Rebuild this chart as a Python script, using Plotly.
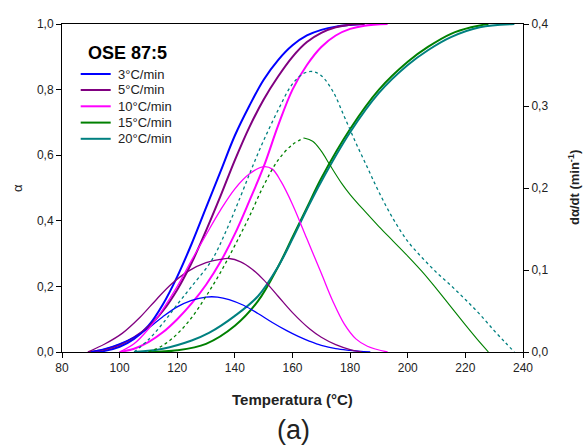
import plotly.graph_objects as go

# ---------------- data ----------------
rates = ["3°C/min", "5°C/min", "10°C/min", "15°C/min", "20°C/min"]
colors = ["#0000FF", "#800080", "#FF00FF", "#008000", "#008080"]
legend_title = "OSE 87:5"

# conversion alpha vs temperature
T_a3 = [90, 95, 100, 105, 110, 115, 120, 125, 130, 135, 140, 145, 150, 155, 160, 165, 170, 175, 180, 185]
a3 = [0.0, 0.004, 0.016, 0.04, 0.08, 0.145, 0.23, 0.33, 0.44, 0.55, 0.66, 0.75, 0.83, 0.89, 0.935, 0.965, 0.982, 0.992, 0.997, 1.0]

T_a5 = [89, 95, 100, 105, 110, 115, 120, 125, 130, 135, 140, 145, 150, 155, 160, 165, 170, 175, 180, 185]
a5 = [0.0, 0.008, 0.022, 0.045, 0.077, 0.125, 0.19, 0.272, 0.37, 0.475, 0.585, 0.685, 0.77, 0.84, 0.9, 0.945, 0.973, 0.99, 0.998, 1.0]

T_a10 = [100, 105, 110, 115, 120, 125, 130, 135, 140, 145, 150, 155, 160, 165, 170, 175, 180, 185, 193]
a10 = [0.0, 0.01, 0.03, 0.06, 0.10, 0.148, 0.205, 0.275, 0.36, 0.46, 0.565, 0.69, 0.80, 0.875, 0.93, 0.965, 0.985, 0.995, 1.0]

T_a15 = [110, 120, 130, 140, 148, 155, 160, 165, 170, 180, 190, 200, 207, 215, 222, 228]
a15 = [0.0, 0.005, 0.025, 0.08, 0.155, 0.26, 0.35, 0.44, 0.53, 0.68, 0.80, 0.885, 0.93, 0.97, 0.99, 1.0]

T_a20 = [105, 115, 125, 131, 140, 148, 155, 160, 165, 170, 180, 190, 200, 207, 215, 225, 237]
a20 = [0.0, 0.01, 0.035, 0.058, 0.11, 0.17, 0.26, 0.345, 0.435, 0.52, 0.67, 0.79, 0.875, 0.92, 0.96, 0.99, 1.0]

# conversion rate d(alpha)/dt vs temperature
T_r3 = [90, 95, 100, 105, 110, 115, 120, 125, 130, 134, 138, 143, 148, 153, 158, 162, 166, 170, 175, 180, 187]
r3 = [0.0, 0.004, 0.01, 0.018, 0.029, 0.043, 0.055, 0.063, 0.067, 0.067, 0.064, 0.057, 0.047, 0.036, 0.026, 0.019, 0.013, 0.008, 0.004, 0.002, 0.0]

T_r5 = [89, 95, 101, 107, 113, 118, 124, 130, 135, 138, 142, 146, 150, 155, 160, 166, 170, 175, 180, 184]
r5 = [0.0, 0.01, 0.023, 0.042, 0.065, 0.083, 0.099, 0.109, 0.113, 0.114, 0.110, 0.101, 0.088, 0.068, 0.048, 0.028, 0.018, 0.009, 0.003, 0.0]

T_r10 = [100, 105, 110, 115, 120, 125, 130, 135, 140, 145, 150, 153, 156, 160, 165, 170, 174, 178, 182, 186, 193]
r10 = [0.0, 0.01, 0.028, 0.052, 0.08, 0.112, 0.143, 0.173, 0.199, 0.217, 0.226, 0.223, 0.208, 0.18, 0.138, 0.096, 0.062, 0.034, 0.016, 0.007, 0.0]

T_r15 = [110, 115, 120, 125, 130, 135, 140, 145, 150, 155, 160, 164,
         167, 170, 173, 177, 180, 185, 190, 195, 200, 205, 210, 215, 220, 224, 228]
r15 = [0.0, 0.008, 0.022, 0.042, 0.068, 0.097, 0.13, 0.165, 0.203, 0.234, 0.253, 0.261,
       0.257, 0.245, 0.228, 0.206, 0.192, 0.172, 0.153, 0.135, 0.117, 0.098, 0.077, 0.055, 0.033, 0.016, 0.0]

T_r20 = [105, 110, 115, 120, 125, 132, 137, 142, 146, 150, 155, 160, 164, 167, 170, 174, 178,
         182, 186, 190, 195, 200, 205, 210, 215, 220, 225, 230, 234, 237]
r20 = [0.0, 0.015, 0.035, 0.058, 0.08, 0.112, 0.148, 0.19, 0.225, 0.258, 0.295, 0.327, 0.34, 0.342, 0.337, 0.318, 0.287,
       0.255, 0.225, 0.195, 0.162, 0.135, 0.115, 0.097, 0.081, 0.064, 0.046, 0.026, 0.011, 0.0]

alpha_T = [T_a3, T_a5, T_a10, T_a15, T_a20]
alpha_v = [a3, a5, a10, a15, a20]
rate_T = [T_r3, T_r5, T_r10, T_r15, T_r20]
rate_v = [r3, r5, r10, r15, r20]
rate_dash = ["solid", "solid", "solid", "split", "dot"]

x_ticks = [80, 100, 120, 140, 160, 180, 200, 220, 240]
yl_ticks = [0.0, 0.2, 0.4, 0.6, 0.8, 1.0]
yr_ticks = [0.0, 0.1, 0.2, 0.3, 0.4]

FONT = "Arial, Liberation Sans, sans-serif"
TXT = "#222"

fig = go.Figure()

# rate curves (right axis)
for i in range(5):
    c = colors[i]
    if rate_dash[i] == "split":
        k = rate_v[i].index(max(rate_v[i]))
        fig.add_trace(go.Scatter(x=rate_T[i][:k + 1], y=rate_v[i][:k + 1], yaxis="y2", mode="lines",
                                 line=dict(color=c, width=1.3, dash="dot", shape="spline"), showlegend=False))
        fig.add_trace(go.Scatter(x=rate_T[i][k:], y=rate_v[i][k:], yaxis="y2", mode="lines",
                                 line=dict(color=c, width=1.1, shape="spline"), showlegend=False))
    else:
        fig.add_trace(go.Scatter(x=rate_T[i], y=rate_v[i], yaxis="y2", mode="lines",
                                 line=dict(color=c, width=1.3, dash=rate_dash[i], shape="spline"),
                                 showlegend=False))

# alpha curves (left axis)
for i in range(5):
    fig.add_trace(go.Scatter(x=alpha_T[i], y=alpha_v[i], mode="lines", name=rates[i], showlegend=False,
                             line=dict(color=colors[i], width=2, shape="spline")))

axis_common = dict(showline=True, linecolor="black", linewidth=1, ticks="outside",
                   ticklen=5, tickcolor="black", showgrid=False, zeroline=False,
                   tickfont=dict(family=FONT, size=12, color=TXT))

# plot area geometry
W, H = 583, 446
PL, PT, PW, PH = 62, 24, 461, 328


def px_x(px):
    return (px - PL) / PW


def px_y(py):
    return (PT + PH - py) / PH


annotations = [
    dict(text="<b>Temperatura (°C)</b>", xref="paper", yref="paper", x=0.5, y=px_y(400),
         xanchor="center", yanchor="middle", showarrow=False,
         font=dict(family=FONT, size=15, color=TXT)),
    dict(text="(a)", xref="paper", yref="paper", x=px_x(293), y=px_y(430),
         xanchor="center", yanchor="middle", showarrow=False,
         font=dict(family=FONT, size=27, color=TXT)),
    dict(text="α", xref="paper", yref="paper", x=px_x(17), y=0.5, textangle=-90,
         xanchor="center", yanchor="middle", showarrow=False,
         font=dict(family=FONT, size=13, color=TXT)),
    dict(text="<b>dα/dt (min<sup>-1</sup>)</b>", xref="paper", yref="paper", x=px_x(574), y=0.5,
         textangle=-90, xanchor="center", yanchor="middle", showarrow=False,
         font=dict(family=FONT, size=13, color=TXT)),
    dict(text="<b>" + legend_title + "</b>", xref="paper", yref="paper", x=px_x(86), y=px_y(53),
         xanchor="left", yanchor="middle", showarrow=False,
         font=dict(family=FONT, size=18, color="black")),
]
shapes = []
leg_y = [74, 90, 106.3, 122.6, 138.8]
for i in range(5):
    shapes.append(dict(type="line", xref="paper", yref="paper", x0=px_x(80.7), x1=px_x(110.7),
                       y0=px_y(leg_y[i]), y1=px_y(leg_y[i]), line=dict(color=colors[i], width=2)))
    annotations.append(dict(text=rates[i], xref="paper", yref="paper", x=px_x(116), y=px_y(leg_y[i]),
                            xanchor="left", yanchor="middle", showarrow=False,
                            font=dict(family=FONT, size=13, color=TXT)))

fig.update_layout(
    width=W, height=H,
    margin=dict(l=PL, r=W - PL - PW, t=PT, b=H - PT - PH, autoexpand=False),
    paper_bgcolor="white", plot_bgcolor="white",
    separators=",.",
    showlegend=False,
    font=dict(family=FONT, size=12, color=TXT),
    xaxis=dict(range=[80, 240], tickvals=x_ticks, mirror=True, **axis_common),
    yaxis=dict(range=[0, 1], tickvals=yl_ticks, tickformat=".1f", **axis_common),
    yaxis2=dict(range=[0, 0.4], tickvals=yr_ticks, tickformat=".1f", overlaying="y", side="right",
                **axis_common),
    annotations=annotations,
    shapes=shapes,
)

fig.write_html("out.html", config={"displayModeBar": False},
               post_script="document.body.style.margin='0';document.body.style.overflow='hidden';")
